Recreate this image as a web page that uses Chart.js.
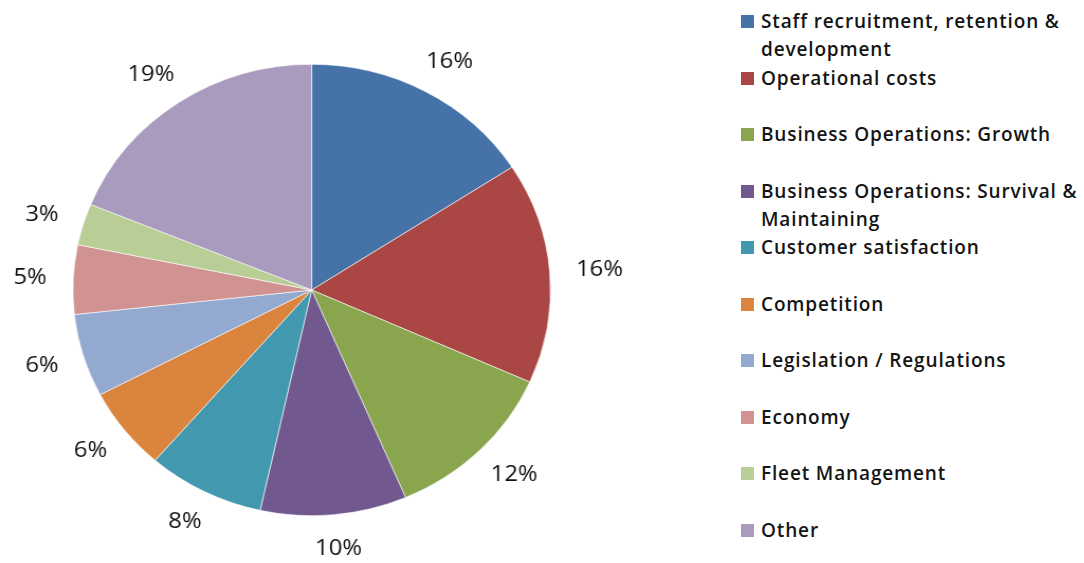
<!DOCTYPE html>
<html>
<head>
<meta charset="utf-8">
<script src="https://cdn.jsdelivr.net/npm/chart.js@4/dist/chart.umd.min.js"></script>
<style>
  html, body { margin: 0; padding: 0; background: #fff; }
  #wrap { position: relative; width: 1084px; height: 563px; overflow: hidden; }
  /* the pie is drawn slightly wider than tall */
  #pie-box { position: absolute; left: 0; top: 0; width: 700px; height: 563px; transform: scaleX(1.058); transform-origin: 0 0; }
  #legend { position: absolute; left: 741px; top: 0; width: 343px; font-family: "Open Sans", sans-serif; font-weight: 600; font-size: 19px; letter-spacing: 0.85px; color: #151515; }
  .item { position: absolute; left: 0; line-height: 28px; padding-left: 20px; white-space: nowrap; }
  .item .sw { position: absolute; left: 0; top: 8px; width: 13px; height: 13px; }
</style>
</head>
<body>
<div id="wrap">
  <div id="pie-box"><canvas id="pie"></canvas></div>
  <div id="legend"></div>
</div>
<script>
// categories and shares (%)
var categories = [
  ['Staff recruitment, retention &', 'development'],
  ['Operational costs'],
  ['Business Operations: Growth'],
  ['Business Operations: Survival &', 'Maintaining'],
  ['Customer satisfaction'],
  ['Competition'],
  ['Legislation / Regulations'],
  ['Economy'],
  ['Fleet Management'],
  ['Other']
];
var shares = [16, 16, 12, 10, 8, 6, 6, 5, 3, 19];
var colors = ['#4572A7', '#AA4643', '#89A54E', '#71588F', '#4198AF',
              '#DB843D', '#93A9CF', '#D19392', '#B9CD96', '#A99BBD'];

// legend on the right
var legend = document.getElementById('legend');
categories.forEach(function (lines, i) {
  var div = document.createElement('div');
  div.className = 'item';
  div.style.top = (7 + 56.5 * i) + 'px';
  div.innerHTML = '<span class="sw" style="background:' + colors[i] + '"></span>' + lines.join('<br>');
  legend.appendChild(div);
});

// percentage labels just outside each slice
var outsideLabels = {
  id: 'outsideLabels',
  afterDatasetsDraw: function (chart) {
    var ctx = chart.ctx;
    var meta = chart.getDatasetMeta(0);
    ctx.save();
    ctx.font = '500 22.5px "Open Sans", sans-serif';
    ctx.fillStyle = '#111111';
    ctx.textAlign = 'center';
    ctx.textBaseline = 'middle';
    meta.data.forEach(function (arc, i) {
      var p = arc.getProps(['x', 'y', 'startAngle', 'endAngle', 'outerRadius'], true);
      var mid = (p.startAngle + p.endAngle) / 2;
      var txt = shares[i] + '%';
      var halfW = ctx.measureText(txt).width / 2;
      var halfH = 9;
      var r = p.outerRadius + 25;
      var x = p.x + Math.cos(mid) * (r + halfW);
      var y = p.y + Math.sin(mid) * (r + halfH);
      ctx.fillText(txt, x, y);
    });
    ctx.restore();
  }
};

var chart = new Chart(document.getElementById('pie').getContext('2d'), {
  type: 'pie',
  data: {
    labels: categories.map(function (l) { return l.join(' '); }),
    datasets: [{
      data: shares,
      backgroundColor: colors,
      borderColor: '#ffffff',
      borderWidth: 0.6
    }]
  },
  options: {
    responsive: true,
    maintainAspectRatio: false,
    animation: false,
    layout: { padding: { left: 68.6, right: 179.4, top: 64, bottom: 47 } },
    plugins: {
      legend: { display: false },
      tooltip: { enabled: false }
    }
  },
  plugins: [outsideLabels]
});
</script>
</body>
</html>
